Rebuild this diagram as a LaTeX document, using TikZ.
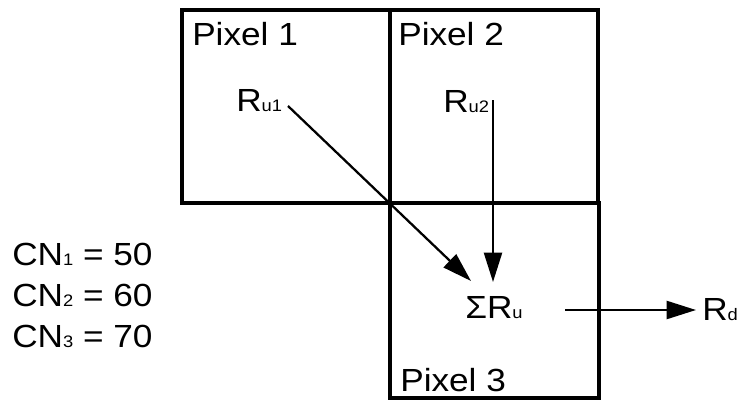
\documentclass[tikz,border=0pt]{standalone}
\usepackage{fontspec}
\setmainfont{Liberation Sans}[FakeStretch=1.1]
\usetikzlibrary{arrows.meta}
\newcommand{\sm}[1]{\raisebox{-0.5pt}{\fontsize{12.5}{12.5}\selectfont #1}}
\tikzset{
  box/.style={draw, line width=2.6pt, inner sep=0pt, outer sep=0pt},
  lbl/.style={anchor=base west, inner sep=0pt, font=\fontsize{24}{29}\selectfont},
  arr/.style={line width=1.7pt, -{Triangle[length=22pt,width=13.5pt]}},
}
\begin{document}
\begin{tikzpicture}[x=0.75pt,y=-0.75pt]
\useasboundingbox (0,0) rectangle (738,400);
% boxes
\node[box, minimum width=156pt, minimum height=144.75pt] (box1) at (286,106.5) {};
\node[box, minimum width=156pt, minimum height=144.75pt] (box2) at (494,106.5) {};
\node[box, minimum width=156.75pt, minimum height=146.25pt] (box3) at (494.5,300.5) {};
% labels
\node[lbl] (p1) at (192,45) {Pixel 1};
\node[lbl] (p2) at (398,45) {Pixel 2};
\node[lbl] (p3) at (400,391) {Pixel 3};
\node[lbl] (ru1) at (236,111) {R\sm{u1}};
\node[lbl] (ru2) at (443,112) {R\sm{u2}};
\node[lbl] (sum) at (465,318) {ΣR\sm{u}};
\node[lbl] (rd) at (702,320) {R\sm{d}};
\node[lbl] (cn1) at (12,265) {CN\sm{1} = 50};
\node[lbl] (cn2) at (12,306) {CN\sm{2} = 60};
\node[lbl] (cn3) at (12,347) {CN\sm{3} = 70};
% connector ends
\coordinate (a1s) at (288,106);
\coordinate (a1e) at (471,281);
\coordinate (a2s) at (493,100);
\coordinate (a2e) at (493,282);
\coordinate (a3s) at (565,310);
\coordinate (a3e) at (696,310);
\draw[arr] (a1s) -- (a1e);
\draw[arr] (a2s) -- (a2e);
\draw[arr] (a3s) -- (a3e);
\end{tikzpicture}
\end{document}
